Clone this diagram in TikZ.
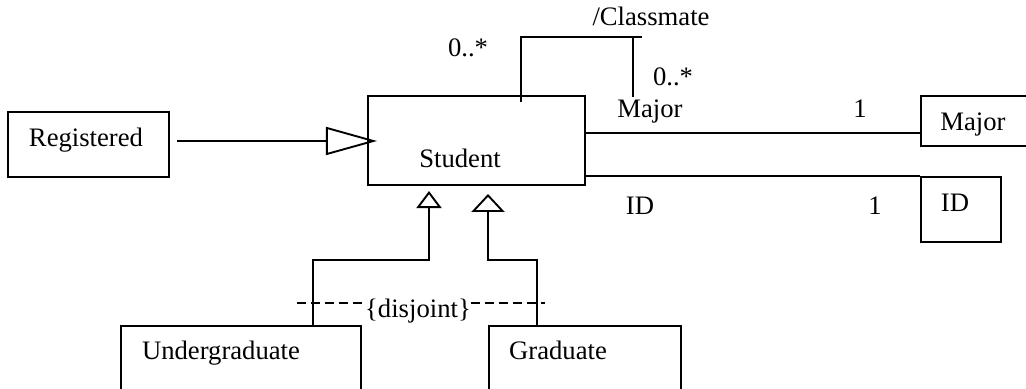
\documentclass[tikz,border=0pt]{standalone}
\usepackage{fontspec}
\setmainfont{Liberation Serif}
\usetikzlibrary{arrows.meta,fit,positioning}

\tikzset{
  cls/.style={draw,line width=1pt,inner sep=0pt},
  txt/.style={inner sep=0pt,anchor=base,font=\fontsize{12}{14}\selectfont},
  conn/.style={line width=0.85pt},
  assoc/.style={line width=0.7pt},
}

\begin{document}
\begin{tikzpicture}[x=0.45pt,y=-0.45pt]
            \useasboundingbox (0,0) rectangle (1026,389);

            \node[cls,fit={(8,112) (169,177)}] (registered) {};
            \node[cls,fit={(368,96) (585,185)}] (student) {};
            \node[cls,fit={(921,96) (1040,146)}] (major) {};
            \node[cls,fit={(921,177) (1001,242)}] (idbox) {};
            \node[cls,fit={(121,326) (361,400)}] (ugrad) {};
            \node[cls,fit={(489,326) (681,400)}] (grad) {};

            \node[txt] (registeredT) at (86,147) {Registered};
            \node[txt] (studentT) at (460,168) {Student};
            \node[txt] (majorT) at (973,131) {Major};
            \node[txt] (idT) at (955,212) {ID};
            \node[txt] (ugradT) at (221,360) {Undergraduate};
            \node[txt] (gradT) at (558,360) {Graduate};

            \node[txt] (multL) at (468,57) {0..*};
            \node[txt] (classmate) at (651,26) {/Classmate};
            \node[txt] (multR) at (673,86) {0..*};
            \node[txt] (roleMajor) at (650,118) {Major};
            \node[txt] (oneMajor) at (860,118) {1};
            \node[txt] (roleID) at (640,215) {ID};
            \node[txt] (oneID) at (875,215) {1};

            \coordinate (regtip) at (377,141);
            \coordinate (loopA) at (521,102);
            \coordinate (loopB) at (642,37);
            \coordinate (loopC) at (633,37);
            \coordinate (loopD) at (633,97);
            \coordinate (mline) at (750,133);
            \coordinate (ubend) at (313,260);
            \coordinate (utip) at (429,191);
            \coordinate (gbend) at (537,260);
            \coordinate (gtip) at (488,194);
            \coordinate (disjL) at (297,303);
            \coordinate (disjR) at (545,303);

            % generalisation Registered -> Student
            \draw[conn,-{Triangle[open,length=23pt,width=12.6pt]}] ([xshift=3.2pt]registered.east |- regtip) -- (regtip);

            % /Classmate self association
            \draw[conn] (loopA) |- (loopB);
            \draw[conn] (loopC) -- (loopD);

            % associations
            \draw[assoc] (student.east |- mline) -- (major.west |- mline);
            \draw[assoc] (student.east |- idbox.north) -- (idbox.north west);

            % subclasses
            \draw[conn,-{Triangle[open,length=7.7pt,width=11.3pt]}] (ugrad.north -| ubend) |- (utip |- ubend) -- (utip);
            \draw[conn,-{Triangle[open,length=8.1pt,width=14.9pt]}] (grad.north -| gbend) |- (gtip |- gbend) -- (gtip);

            \node[txt,anchor=center] (disjoint) at (418,311) {\{disjoint\}};
            \draw[conn,dash pattern=on 4pt off 2.3pt] (disjL) -- (disjoint.west |- disjL);
            \draw[conn,dash pattern=on 4pt off 2.3pt] (disjoint.east |- disjR) -- (disjR);
\end{tikzpicture}
\end{document}
